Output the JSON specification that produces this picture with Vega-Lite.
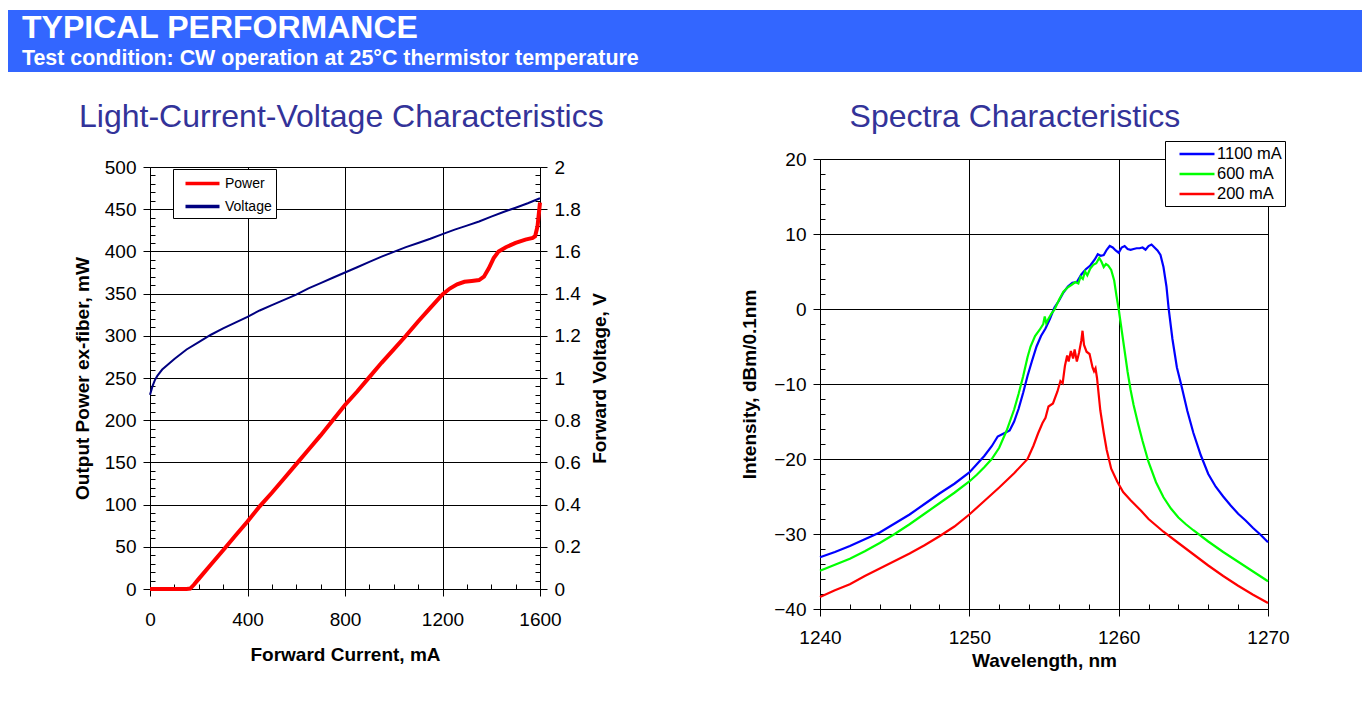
{
  "$schema": "https://vega.github.io/schema/vega-lite/v6.json",
  "background": "white",
  "padding": {"left": 8, "top": 10, "right": 2, "bottom": 5},
  "spacing": 27,
  "center": false,
  "resolve": {"scale": {"color": "independent"}, "legend": {"color": "independent"}},
  "config": {
    "font": "Liberation Sans",
    "view": {"stroke": "#808080"},
    "axis": {"domainColor": "black", "tickColor": "black", "gridColor": "black", "labelColor": "black", "titleColor": "black", "labelFont": "Liberation Sans", "titleFont": "Liberation Sans", "labelFontSize": 19, "titleFontSize": 19, "titleFontWeight": "bold", "labelOverlap": false, "labelFlush": false},
    "title": {"font": "Liberation Sans", "fontWeight": "normal", "color": "#333399", "fontSize": 32}
  },
  "datasets": {
    "power": [
      {"current": 0, "power": 0, "series": "Power"}, {"current": 50, "power": 0, "series": "Power"}, {"current": 100, "power": 0, "series": "Power"}, {"current": 150, "power": 0, "series": "Power"}, {"current": 165, "power": 0.5, "series": "Power"}, {"current": 180, "power": 5, "series": "Power"}, {"current": 200, "power": 12, "series": "Power"}, {"current": 250, "power": 29, "series": "Power"}, {"current": 300, "power": 46, "series": "Power"}, {"current": 350, "power": 63, "series": "Power"}, {"current": 400, "power": 80, "series": "Power"}, {"current": 450, "power": 98, "series": "Power"}, {"current": 500, "power": 114, "series": "Power"}, {"current": 550, "power": 131, "series": "Power"}, {"current": 600, "power": 148, "series": "Power"}, {"current": 650, "power": 165, "series": "Power"}, {"current": 700, "power": 182, "series": "Power"}, {"current": 750, "power": 200, "series": "Power"}, {"current": 800, "power": 218, "series": "Power"}, {"current": 850, "power": 234, "series": "Power"}, {"current": 900, "power": 251, "series": "Power"}, {"current": 950, "power": 268, "series": "Power"}, {"current": 1000, "power": 284, "series": "Power"}, {"current": 1050, "power": 300, "series": "Power"}, {"current": 1100, "power": 317, "series": "Power"}, {"current": 1150, "power": 333, "series": "Power"}, {"current": 1200, "power": 349, "series": "Power"}, {"current": 1230, "power": 356, "series": "Power"}, {"current": 1260, "power": 361, "series": "Power"}, {"current": 1290, "power": 364, "series": "Power"}, {"current": 1320, "power": 365, "series": "Power"}, {"current": 1350, "power": 366, "series": "Power"}, {"current": 1370, "power": 370, "series": "Power"}, {"current": 1390, "power": 380, "series": "Power"}, {"current": 1410, "power": 392, "series": "Power"}, {"current": 1430, "power": 400, "series": "Power"}, {"current": 1460, "power": 405, "series": "Power"}, {"current": 1500, "power": 410, "series": "Power"}, {"current": 1540, "power": 414, "series": "Power"}, {"current": 1570, "power": 416, "series": "Power"}, {"current": 1580, "power": 418, "series": "Power"}, {"current": 1590, "power": 430, "series": "Power"}, {"current": 1600, "power": 458, "series": "Power"}
    ],
    "voltage": [
      {"current": 0, "voltage": 0.92, "series": "Voltage"}, {"current": 10, "voltage": 0.96, "series": "Voltage"}, {"current": 20, "voltage": 0.99, "series": "Voltage"}, {"current": 30, "voltage": 1.01, "series": "Voltage"}, {"current": 50, "voltage": 1.04, "series": "Voltage"}, {"current": 75, "voltage": 1.065, "series": "Voltage"}, {"current": 100, "voltage": 1.09, "series": "Voltage"}, {"current": 150, "voltage": 1.135, "series": "Voltage"}, {"current": 200, "voltage": 1.17, "series": "Voltage"}, {"current": 250, "voltage": 1.205, "series": "Voltage"}, {"current": 300, "voltage": 1.235, "series": "Voltage"}, {"current": 350, "voltage": 1.262, "series": "Voltage"}, {"current": 400, "voltage": 1.29, "series": "Voltage"}, {"current": 450, "voltage": 1.32, "series": "Voltage"}, {"current": 500, "voltage": 1.345, "series": "Voltage"}, {"current": 550, "voltage": 1.37, "series": "Voltage"}, {"current": 600, "voltage": 1.395, "series": "Voltage"}, {"current": 650, "voltage": 1.425, "series": "Voltage"}, {"current": 700, "voltage": 1.45, "series": "Voltage"}, {"current": 750, "voltage": 1.475, "series": "Voltage"}, {"current": 800, "voltage": 1.5, "series": "Voltage"}, {"current": 850, "voltage": 1.525, "series": "Voltage"}, {"current": 900, "voltage": 1.55, "series": "Voltage"}, {"current": 950, "voltage": 1.575, "series": "Voltage"}, {"current": 1000, "voltage": 1.598, "series": "Voltage"}, {"current": 1050, "voltage": 1.62, "series": "Voltage"}, {"current": 1100, "voltage": 1.64, "series": "Voltage"}, {"current": 1150, "voltage": 1.66, "series": "Voltage"}, {"current": 1200, "voltage": 1.682, "series": "Voltage"}, {"current": 1250, "voltage": 1.703, "series": "Voltage"}, {"current": 1300, "voltage": 1.722, "series": "Voltage"}, {"current": 1350, "voltage": 1.742, "series": "Voltage"}, {"current": 1400, "voltage": 1.765, "series": "Voltage"}, {"current": 1450, "voltage": 1.787, "series": "Voltage"}, {"current": 1500, "voltage": 1.807, "series": "Voltage"}, {"current": 1550, "voltage": 1.828, "series": "Voltage"}, {"current": 1600, "voltage": 1.852, "series": "Voltage"}
    ],
    "spectra": [
      {"s": "1100 mA", "w": 1240, "v": -33.1}, {"s": "1100 mA", "w": 1241, "v": -32.4}, {"s": "1100 mA", "w": 1242, "v": -31.6}, {"s": "1100 mA", "w": 1243, "v": -30.7}, {"s": "1100 mA", "w": 1244, "v": -29.8}, {"s": "1100 mA", "w": 1245, "v": -28.6}, {"s": "1100 mA", "w": 1246, "v": -27.4}, {"s": "1100 mA", "w": 1247, "v": -26.0}, {"s": "1100 mA", "w": 1248, "v": -24.6}, {"s": "1100 mA", "w": 1249, "v": -23.3}, {"s": "1100 mA", "w": 1250, "v": -21.8}, {"s": "1100 mA", "w": 1250.5, "v": -20.7}, {"s": "1100 mA", "w": 1251, "v": -19.6}, {"s": "1100 mA", "w": 1251.5, "v": -18.3}, {"s": "1100 mA", "w": 1251.9, "v": -17.0}, {"s": "1100 mA", "w": 1252.3, "v": -16.6}, {"s": "1100 mA", "w": 1252.7, "v": -16.2}, {"s": "1100 mA", "w": 1253, "v": -15.0}, {"s": "1100 mA", "w": 1253.3, "v": -13.3}, {"s": "1100 mA", "w": 1253.6, "v": -11.2}, {"s": "1100 mA", "w": 1253.9, "v": -8.9}, {"s": "1100 mA", "w": 1254.2, "v": -6.9}, {"s": "1100 mA", "w": 1254.5, "v": -5.0}, {"s": "1100 mA", "w": 1254.8, "v": -3.6}, {"s": "1100 mA", "w": 1255.1, "v": -2.6}, {"s": "1100 mA", "w": 1255.4, "v": -1.3}, {"s": "1100 mA", "w": 1255.7, "v": 0.2}, {"s": "1100 mA", "w": 1256, "v": 1.1}, {"s": "1100 mA", "w": 1256.3, "v": 2.2}, {"s": "1100 mA", "w": 1256.6, "v": 3.0}, {"s": "1100 mA", "w": 1256.9, "v": 3.5}, {"s": "1100 mA", "w": 1257.2, "v": 3.6}, {"s": "1100 mA", "w": 1257.5, "v": 4.6}, {"s": "1100 mA", "w": 1257.8, "v": 5.3}, {"s": "1100 mA", "w": 1258.1, "v": 5.8}, {"s": "1100 mA", "w": 1258.4, "v": 6.6}, {"s": "1100 mA", "w": 1258.6, "v": 7.3}, {"s": "1100 mA", "w": 1258.8, "v": 7.1}, {"s": "1100 mA", "w": 1259.0, "v": 7.2}, {"s": "1100 mA", "w": 1259.2, "v": 7.9}, {"s": "1100 mA", "w": 1259.4, "v": 8.4}, {"s": "1100 mA", "w": 1259.6, "v": 8.2}, {"s": "1100 mA", "w": 1259.8, "v": 7.8}, {"s": "1100 mA", "w": 1260.0, "v": 7.5}, {"s": "1100 mA", "w": 1260.2, "v": 8.2}, {"s": "1100 mA", "w": 1260.4, "v": 8.4}, {"s": "1100 mA", "w": 1260.6, "v": 8.0}, {"s": "1100 mA", "w": 1260.8, "v": 7.9}, {"s": "1100 mA", "w": 1261.0, "v": 8.0}, {"s": "1100 mA", "w": 1261.2, "v": 8.1}, {"s": "1100 mA", "w": 1261.4, "v": 8.1}, {"s": "1100 mA", "w": 1261.6, "v": 8.2}, {"s": "1100 mA", "w": 1261.8, "v": 7.9}, {"s": "1100 mA", "w": 1262.0, "v": 8.4}, {"s": "1100 mA", "w": 1262.2, "v": 8.6}, {"s": "1100 mA", "w": 1262.4, "v": 8.2}, {"s": "1100 mA", "w": 1262.6, "v": 7.8}, {"s": "1100 mA", "w": 1262.8, "v": 7.2}, {"s": "1100 mA", "w": 1263.0, "v": 5.6}, {"s": "1100 mA", "w": 1263.2, "v": 3.0}, {"s": "1100 mA", "w": 1263.35, "v": 0.0}, {"s": "1100 mA", "w": 1263.6, "v": -4.0}, {"s": "1100 mA", "w": 1263.9, "v": -7.8}, {"s": "1100 mA", "w": 1264.2, "v": -10.2}, {"s": "1100 mA", "w": 1264.6, "v": -13.6}, {"s": "1100 mA", "w": 1265.0, "v": -16.5}, {"s": "1100 mA", "w": 1265.5, "v": -19.5}, {"s": "1100 mA", "w": 1266, "v": -22.0}, {"s": "1100 mA", "w": 1266.5, "v": -23.7}, {"s": "1100 mA", "w": 1267, "v": -25.0}, {"s": "1100 mA", "w": 1267.5, "v": -26.2}, {"s": "1100 mA", "w": 1268, "v": -27.3}, {"s": "1100 mA", "w": 1268.5, "v": -28.2}, {"s": "1100 mA", "w": 1269, "v": -29.2}, {"s": "1100 mA", "w": 1269.5, "v": -30.1}, {"s": "1100 mA", "w": 1270, "v": -31.1},
      {"s": "600 mA", "w": 1240, "v": -34.9}, {"s": "600 mA", "w": 1241, "v": -34.1}, {"s": "600 mA", "w": 1242, "v": -33.3}, {"s": "600 mA", "w": 1243, "v": -32.3}, {"s": "600 mA", "w": 1244, "v": -31.2}, {"s": "600 mA", "w": 1245, "v": -30.0}, {"s": "600 mA", "w": 1246, "v": -28.7}, {"s": "600 mA", "w": 1247, "v": -27.3}, {"s": "600 mA", "w": 1248, "v": -25.9}, {"s": "600 mA", "w": 1249, "v": -24.5}, {"s": "600 mA", "w": 1250, "v": -23.0}, {"s": "600 mA", "w": 1250.5, "v": -22.1}, {"s": "600 mA", "w": 1251, "v": -21.1}, {"s": "600 mA", "w": 1251.5, "v": -20.0}, {"s": "600 mA", "w": 1252, "v": -18.5}, {"s": "600 mA", "w": 1252.5, "v": -16.2}, {"s": "600 mA", "w": 1253, "v": -13.4}, {"s": "600 mA", "w": 1253.3, "v": -11.3}, {"s": "600 mA", "w": 1253.6, "v": -9.0}, {"s": "600 mA", "w": 1253.9, "v": -6.4}, {"s": "600 mA", "w": 1254.1, "v": -5.0}, {"s": "600 mA", "w": 1254.4, "v": -3.6}, {"s": "600 mA", "w": 1254.7, "v": -2.8}, {"s": "600 mA", "w": 1254.95, "v": -2.0}, {"s": "600 mA", "w": 1255.05, "v": -1.0}, {"s": "600 mA", "w": 1255.15, "v": -1.9}, {"s": "600 mA", "w": 1255.3, "v": -1.3}, {"s": "600 mA", "w": 1255.5, "v": -0.6}, {"s": "600 mA", "w": 1255.7, "v": -0.1}, {"s": "600 mA", "w": 1256, "v": 1.2}, {"s": "600 mA", "w": 1256.3, "v": 2.3}, {"s": "600 mA", "w": 1256.6, "v": 2.9}, {"s": "600 mA", "w": 1256.9, "v": 3.3}, {"s": "600 mA", "w": 1257.1, "v": 3.6}, {"s": "600 mA", "w": 1257.3, "v": 3.4}, {"s": "600 mA", "w": 1257.45, "v": 4.3}, {"s": "600 mA", "w": 1257.6, "v": 4.0}, {"s": "600 mA", "w": 1257.75, "v": 5.0}, {"s": "600 mA", "w": 1257.9, "v": 4.5}, {"s": "600 mA", "w": 1258.1, "v": 5.4}, {"s": "600 mA", "w": 1258.3, "v": 5.9}, {"s": "600 mA", "w": 1258.5, "v": 6.1}, {"s": "600 mA", "w": 1258.7, "v": 6.8}, {"s": "600 mA", "w": 1258.85, "v": 6.3}, {"s": "600 mA", "w": 1259.0, "v": 5.6}, {"s": "600 mA", "w": 1259.15, "v": 6.0}, {"s": "600 mA", "w": 1259.3, "v": 5.8}, {"s": "600 mA", "w": 1259.5, "v": 5.2}, {"s": "600 mA", "w": 1259.7, "v": 3.8}, {"s": "600 mA", "w": 1259.85, "v": 1.8}, {"s": "600 mA", "w": 1260.0, "v": 0.0}, {"s": "600 mA", "w": 1260.2, "v": -2.8}, {"s": "600 mA", "w": 1260.4, "v": -5.6}, {"s": "600 mA", "w": 1260.6, "v": -8.4}, {"s": "600 mA", "w": 1260.8, "v": -10.8}, {"s": "600 mA", "w": 1261, "v": -12.8}, {"s": "600 mA", "w": 1261.3, "v": -15.3}, {"s": "600 mA", "w": 1261.6, "v": -17.6}, {"s": "600 mA", "w": 1262, "v": -20.4}, {"s": "600 mA", "w": 1262.5, "v": -23.1}, {"s": "600 mA", "w": 1263, "v": -25.1}, {"s": "600 mA", "w": 1263.5, "v": -26.6}, {"s": "600 mA", "w": 1264, "v": -27.8}, {"s": "600 mA", "w": 1264.5, "v": -28.7}, {"s": "600 mA", "w": 1265, "v": -29.5}, {"s": "600 mA", "w": 1266, "v": -31.0}, {"s": "600 mA", "w": 1267, "v": -32.4}, {"s": "600 mA", "w": 1268, "v": -33.7}, {"s": "600 mA", "w": 1269, "v": -35.0}, {"s": "600 mA", "w": 1270, "v": -36.3},
      {"s": "200 mA", "w": 1240, "v": -38.4}, {"s": "200 mA", "w": 1241, "v": -37.5}, {"s": "200 mA", "w": 1242, "v": -36.7}, {"s": "200 mA", "w": 1243, "v": -35.6}, {"s": "200 mA", "w": 1244, "v": -34.6}, {"s": "200 mA", "w": 1245, "v": -33.6}, {"s": "200 mA", "w": 1246, "v": -32.6}, {"s": "200 mA", "w": 1247, "v": -31.5}, {"s": "200 mA", "w": 1248, "v": -30.3}, {"s": "200 mA", "w": 1249, "v": -29.0}, {"s": "200 mA", "w": 1250, "v": -27.4}, {"s": "200 mA", "w": 1251, "v": -25.6}, {"s": "200 mA", "w": 1252, "v": -23.8}, {"s": "200 mA", "w": 1253, "v": -21.9}, {"s": "200 mA", "w": 1253.9, "v": -20.0}, {"s": "200 mA", "w": 1254.3, "v": -18.2}, {"s": "200 mA", "w": 1254.6, "v": -16.6}, {"s": "200 mA", "w": 1254.9, "v": -15.2}, {"s": "200 mA", "w": 1255.1, "v": -14.5}, {"s": "200 mA", "w": 1255.3, "v": -13.0}, {"s": "200 mA", "w": 1255.6, "v": -12.6}, {"s": "200 mA", "w": 1255.9, "v": -11.0}, {"s": "200 mA", "w": 1256.1, "v": -9.6}, {"s": "200 mA", "w": 1256.25, "v": -9.9}, {"s": "200 mA", "w": 1256.4, "v": -7.6}, {"s": "200 mA", "w": 1256.55, "v": -6.2}, {"s": "200 mA", "w": 1256.65, "v": -7.0}, {"s": "200 mA", "w": 1256.8, "v": -5.6}, {"s": "200 mA", "w": 1256.95, "v": -6.6}, {"s": "200 mA", "w": 1257.05, "v": -5.4}, {"s": "200 mA", "w": 1257.2, "v": -7.0}, {"s": "200 mA", "w": 1257.35, "v": -5.8}, {"s": "200 mA", "w": 1257.5, "v": -4.2}, {"s": "200 mA", "w": 1257.58, "v": -2.9}, {"s": "200 mA", "w": 1257.68, "v": -4.8}, {"s": "200 mA", "w": 1257.85, "v": -5.7}, {"s": "200 mA", "w": 1258.05, "v": -6.0}, {"s": "200 mA", "w": 1258.25, "v": -7.8}, {"s": "200 mA", "w": 1258.35, "v": -8.3}, {"s": "200 mA", "w": 1258.45, "v": -7.9}, {"s": "200 mA", "w": 1258.55, "v": -9.2}, {"s": "200 mA", "w": 1258.77, "v": -13.5}, {"s": "200 mA", "w": 1259.0, "v": -16.5}, {"s": "200 mA", "w": 1259.2, "v": -18.8}, {"s": "200 mA", "w": 1259.5, "v": -21.3}, {"s": "200 mA", "w": 1259.9, "v": -23.0}, {"s": "200 mA", "w": 1260.3, "v": -24.4}, {"s": "200 mA", "w": 1260.8, "v": -25.5}, {"s": "200 mA", "w": 1261.5, "v": -26.9}, {"s": "200 mA", "w": 1262, "v": -28.0}, {"s": "200 mA", "w": 1263, "v": -29.7}, {"s": "200 mA", "w": 1264, "v": -31.2}, {"s": "200 mA", "w": 1265, "v": -32.7}, {"s": "200 mA", "w": 1266, "v": -34.2}, {"s": "200 mA", "w": 1267, "v": -35.6}, {"s": "200 mA", "w": 1268, "v": -36.9}, {"s": "200 mA", "w": 1269, "v": -38.1}, {"s": "200 mA", "w": 1270, "v": -39.2}
    ]
  },
  "vconcat": [
    {
      "width": 1354,
      "height": 62,
      "view": {"fill": "#3366FF", "stroke": null},
      "title": {"text": "TYPICAL PERFORMANCE", "subtitle": "Test condition: CW operation at 25°C thermistor temperature", "anchor": "start", "frame": "group", "orient": "top", "offset": -60, "dx": 14, "color": "white", "fontSize": 32, "fontWeight": "bold", "subtitleColor": "white", "subtitleFont": "Liberation Sans", "subtitleFontSize": 21.4, "subtitleFontWeight": "bold", "subtitlePadding": 3},
      "data": {"values": []},
      "mark": "text",
      "encoding": {}
    },
    {
      "spacing": 63,
      "resolve": {"scale": {"color": "independent"}, "legend": {"color": "independent"}},
      "hconcat": [
        {"width": 1, "height": 1, "view": {"stroke": null}, "data": {"values": []}, "mark": "point", "encoding": {}},
        {
          "spacing": 130,
          "resolve": {"scale": {"color": "independent"}, "legend": {"color": "independent"}},
          "hconcat": [
            {
              "spacing": 0,
              "resolve": {"scale": {"color": "independent"}, "legend": {"color": "independent"}},
              "vconcat": [
                {"width": 1, "height": 1, "view": {"stroke": null}, "data": {"values": []}, "mark": "point", "encoding": {}},
                {
                  "width": 390,
                  "height": 422,
                  "title": {"text": "Light-Current-Voltage Characteristics", "anchor": "middle", "frame": "bounds", "offset": 24},
                  "encoding": {
                    "x": {"field": "current", "type": "quantitative", "scale": {"domain": [0, 1600], "nice": false},
                      "axis": {"title": "Forward Current, mA", "values": [0,100,200,300,400,500,600,700,800,900,1000,1100,1200,1300,1400,1500,1600], "format": "d",
                        "labelExpr": "datum.value % 400 === 0 ? datum.label : ''",
                        "tickSize": {"condition": {"test": "datum.value % 400 === 0", "value": 7}, "value": -5},
                        "grid": true, "gridOpacity": {"condition": {"test": "datum.value % 400 === 0", "value": 1}, "value": 0},
                        "labelPadding": 14, "titlePadding": 16}},
                    "color": {"field": "series", "type": "nominal", "scale": {"domain": ["Power", "Voltage"], "range": ["#FF0000", "#000080"]},
                      "legend": {"orient": "none", "legendX": 23, "legendY": 2, "title": null, "strokeColor": "black", "fillColor": "white", "padding": 4, "symbolType": "M-2,0H2", "symbolSize": 289, "symbolStrokeWidth": 3.5, "symbolOffset": 15, "labelFontSize": 14, "labelFont": "Liberation Sans", "rowPadding": 5, "labelOffset": 12}}
                  },
                  "layer": [
                    {
                      "data": {"name": "voltage"},
                      "mark": {"type": "line", "strokeWidth": 2},
                      "encoding": {
                        "y": {"field": "voltage", "type": "quantitative", "scale": {"domain": [0, 2], "nice": false},
                          "axis": {"orient": "right", "title": "Forward Voltage, V", "titleAngle": 270, "titleBaseline": "top",
                            "values": [0,0.04,0.08,0.12,0.16,0.2,0.24,0.28,0.32,0.36,0.4,0.44,0.48,0.52,0.56,0.6,0.64,0.68,0.72,0.76,0.8,0.84,0.88,0.92,0.96,1,1.04,1.08,1.12,1.16,1.2,1.24,1.28,1.32,1.36,1.4,1.44,1.48,1.52,1.56,1.6,1.64,1.68,1.72,1.76,1.8,1.84,1.88,1.92,1.96,2],
                            "labelExpr": "abs(datum.value*5 - round(datum.value*5)) < 0.001 ? format(datum.value, '~g') : ''",
                            "tickSize": {"condition": {"test": "abs(datum.value*5 - round(datum.value*5)) < 0.001", "value": 7}, "value": -5},
                            "grid": false, "labelPadding": 7, "titlePadding": 10}}
                      }
                    },
                    {
                      "data": {"name": "power"},
                      "mark": {"type": "line", "strokeWidth": 4},
                      "encoding": {
                        "y": {"field": "power", "type": "quantitative", "scale": {"domain": [0, 500], "nice": false},
                          "axis": {"orient": "left", "title": "Output Power ex-fiber, mW",
                            "values": [0,10,20,30,40,50,60,70,80,90,100,110,120,130,140,150,160,170,180,190,200,210,220,230,240,250,260,270,280,290,300,310,320,330,340,350,360,370,380,390,400,410,420,430,440,450,460,470,480,490,500],
                            "labelExpr": "datum.value % 50 === 0 ? datum.label : ''",
                            "tickSize": {"condition": {"test": "datum.value % 50 === 0", "value": 7}, "value": -5},
                            "grid": true, "gridOpacity": {"condition": {"test": "datum.value % 50 === 0", "value": 1}, "value": 0},
                            "labelPadding": 7, "titlePadding": 12}}
                      }
                    }
                  ],
                  "resolve": {"scale": {"y": "independent"}}
                }
              ]
            },
            {
              "spacing": 0,
              "resolve": {"scale": {"color": "independent"}, "legend": {"color": "independent"}},
              "vconcat": [
                {"width": 1, "height": 1, "view": {"stroke": null}, "data": {"values": []}, "mark": "point", "encoding": {}},
                {
                  "width": 448,
                  "height": 450,
                  "title": {"text": "Spectra Characteristics", "anchor": "middle", "frame": "bounds", "offset": 7},
                  "data": {"name": "spectra"},
                  "mark": {"type": "line", "strokeWidth": 2.2},
                  "encoding": {
                    "x": {"field": "w", "type": "quantitative", "scale": {"domain": [1240, 1270], "nice": false},
                      "axis": {"title": "Wavelength, nm", "values": [1240,1242,1244,1246,1248,1250,1252,1254,1256,1258,1260,1262,1264,1266,1268,1270], "format": "d",
                        "labelExpr": "datum.value % 10 === 0 ? datum.label : ''",
                        "tickSize": {"condition": {"test": "datum.value % 10 === 0", "value": 7}, "value": -5},
                        "grid": true, "gridOpacity": {"condition": {"test": "datum.value % 10 === 0", "value": 1}, "value": 0},
                        "labelPadding": 12, "titlePadding": 4}},
                    "y": {"field": "v", "type": "quantitative", "scale": {"domain": [-40, 20], "nice": false},
                      "axis": {"title": "Intensity, dBm/0.1nm", "values": [-40,-38,-36,-34,-32,-30,-28,-26,-24,-22,-20,-18,-16,-14,-12,-10,-8,-6,-4,-2,0,2,4,6,8,10,12,14,16,18,20],
                        "labelExpr": "datum.value % 10 === 0 ? datum.label : ''",
                        "tickSize": {"condition": {"test": "datum.value % 10 === 0", "value": 7}, "value": -5},
                        "grid": true, "gridOpacity": {"condition": {"test": "datum.value % 10 === 0", "value": 1}, "value": 0},
                        "labelPadding": 7, "titlePadding": 14}},
                    "color": {"field": "s", "type": "nominal", "sort": ["1100 mA", "600 mA", "200 mA"], "scale": {"domain": ["1100 mA", "600 mA", "200 mA"], "range": ["#0000FF", "#00FF00", "#FF0000"]},
                      "legend": {"orient": "none", "legendX": 345, "legendY": -18, "title": null, "strokeColor": "black", "fillColor": "white", "padding": 3, "symbolType": "M-2,0H2", "symbolSize": 306, "symbolStrokeWidth": 2.5, "symbolOffset": 19, "labelFontSize": 16.5, "labelFont": "Liberation Sans", "rowPadding": 1, "labelOffset": 10}}
                  }
                }
              ]
            }
          ]
        }
      ]
    }
  ]
}
